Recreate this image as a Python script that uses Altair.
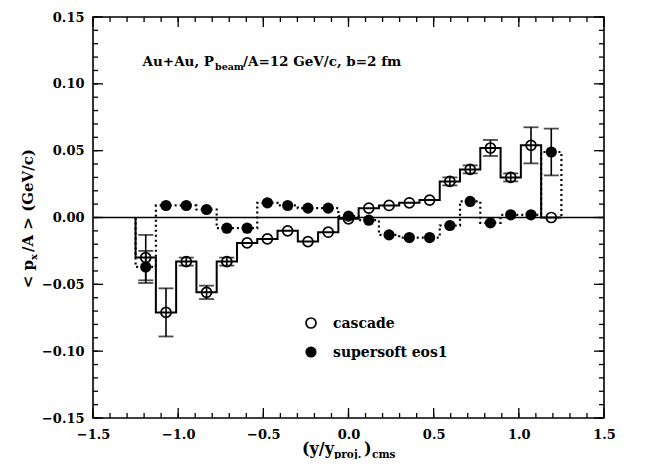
import altair as alt
import pandas as pd

# ---------------- data ----------------
# 21 equal bins over [-1.25, 1.25], the middle one centred at 0
centers = [-1.1905, -1.0714, -0.9524, -0.8333, -0.7143, -0.5952, -0.4762, -0.3571, -0.2381, -0.1190,
           0.0, 0.1190, 0.2381, 0.3571, 0.4762, 0.5952, 0.7143, 0.8333, 0.9524, 1.0714, 1.1905]
half_bin = 0.0595
cascade = [-0.030, -0.071, -0.033, -0.056, -0.033, -0.019, -0.016, -0.010, -0.018, -0.011,
           -0.001, 0.007, 0.009, 0.011, 0.013, 0.027, 0.036, 0.052, 0.030, 0.054, 0.000]
cascade_err = [0.017, 0.018, 0.003, 0.005, 0.003, 0.0, 0.0, 0.0, 0.0, 0.0,
               0.0, 0.0, 0.0, 0.0, 0.0, 0.003, 0.003, 0.006, 0.003, 0.0135, 0.0]
eos = [-0.037, 0.009, 0.009, 0.006, -0.008, -0.008, 0.011, 0.009, 0.007, 0.007,
       0.001, -0.002, -0.013, -0.015, -0.015, -0.006, 0.012, -0.004, 0.002, 0.002, 0.049]
eos_err = [0.012, 0.0, 0.0, 0.0, 0.0, 0.0, 0.0, 0.0, 0.0, 0.0,
           0.0, 0.0, 0.0, 0.0, 0.0, 0.0, 0.0, 0.0, 0.0, 0.0, 0.0175]

x_major = [-1.5, -1.0, -0.5, 0.0, 0.5, 1.0, 1.5]
y_major = [-0.15, -0.10, -0.05, 0.0, 0.05, 0.10, 0.15]
x_minor = [round(-1.5 + 0.1 * i, 2) for i in range(31)]
y_minor = [round(-0.15 + 0.01 * i, 3) for i in range(31)]

W, H = 511, 401
FONT = "DejaVu Serif"

# ---------------- tables ----------------
def step_table(vals):
    rows = [{"i": 0, "x": centers[0] - half_bin, "v": 0.0}]
    for k, (c, v) in enumerate(zip(centers, vals)):
        rows.append({"i": k + 1, "x": c - half_bin, "v": v})
    rows.append({"i": len(vals) + 1, "x": centers[-1] + half_bin, "v": vals[-1]})
    rows.append({"i": len(vals) + 2, "x": centers[-1] + half_bin, "v": 0.0})
    return pd.DataFrame(rows)

pts = pd.DataFrame({"x": centers, "cas": cascade, "cas_err": cascade_err,
                    "eos": eos, "eos_err": eos_err})
pts["cas_lo"] = pts["cas"] - pts["cas_err"]
pts["cas_hi"] = pts["cas"] + pts["cas_err"]
pts["eos_lo"] = pts["eos"] - pts["eos_err"]
pts["eos_hi"] = pts["eos"] + pts["eos_err"]

xs = alt.Scale(domain=[-1.5, 1.5], nice=False, zero=False)
ys = alt.Scale(domain=[-0.15, 0.15], nice=False, zero=False)

base_axes = alt.Chart(pd.DataFrame({"x": [0.0], "y": [0.0]})).mark_point(opacity=0).encode(
    x=alt.X("x:Q", scale=xs, title=None,
            axis=alt.Axis(values=x_major, format=".1f", ticks=False, domain=False, grid=False,
                          labelFont=FONT, labelFontWeight="bold", labelFontSize=13,
                          labelColor="black", labelPadding=10, labelFlush=False,
                          labelOverlap=False)),
    y=alt.Y("y:Q", scale=ys, title=None,
            axis=alt.Axis(values=y_major, format=".2f", ticks=False, domain=False, grid=False,
                          labelFont=FONT, labelFontWeight="bold", labelFontSize=13,
                          labelColor="black", labelPadding=9, labelFlush=False,
                          labelOverlap=False)),
)

zero_line = alt.Chart(pd.DataFrame({"y": [0.0]})).mark_rule(color="black", strokeWidth=1.5).encode(
    y=alt.Y("y:Q", scale=ys))

# inward ticks on four sides
def xticks(vals, length):
    d = pd.DataFrame({"t": vals})
    b = alt.Chart(d).mark_rule(color="black", strokeWidth=1.3).encode(
        x=alt.X("t:Q", scale=xs), y=alt.value(H), y2=alt.value(H - length))
    t = alt.Chart(d).mark_rule(color="black", strokeWidth=1.3).encode(
        x=alt.X("t:Q", scale=xs), y=alt.value(0), y2=alt.value(length))
    return b + t

def yticks(vals, length):
    d = pd.DataFrame({"t": vals})
    l = alt.Chart(d).mark_rule(color="black", strokeWidth=1.3).encode(
        y=alt.Y("t:Q", scale=ys), x=alt.value(0), x2=alt.value(length))
    r = alt.Chart(d).mark_rule(color="black", strokeWidth=1.3).encode(
        y=alt.Y("t:Q", scale=ys), x=alt.value(W), x2=alt.value(W - length))
    return l + r

ticks = xticks(x_major, 10) + xticks(x_minor, 5) + yticks(y_major, 10) + yticks(y_minor, 5)

cas_step = alt.Chart(step_table(cascade)).mark_line(
    color="black", strokeWidth=2, interpolate="step-after").encode(
    x=alt.X("x:Q", scale=xs), y=alt.Y("v:Q", scale=ys), order="i:Q")
eos_step = alt.Chart(step_table(eos)).mark_line(
    color="black", strokeWidth=2.2, strokeDash=[2, 3], interpolate="step-after").encode(
    x=alt.X("x:Q", scale=xs), y=alt.Y("v:Q", scale=ys), order="i:Q")

pbase = alt.Chart(pts)

def errbars(lo, hi, errf):
    sel = pbase.transform_filter(f"datum.{errf} > 0")
    rule = sel.mark_rule(color="black", strokeWidth=1.6).encode(
        x=alt.X("x:Q", scale=xs), y=alt.Y(f"{lo}:Q", scale=ys), y2=f"{hi}:Q")
    cap_lo = sel.mark_tick(color="black", orient="horizontal", size=15, thickness=1.8).encode(
        x=alt.X("x:Q", scale=xs), y=alt.Y(f"{lo}:Q", scale=ys))
    cap_hi = sel.mark_tick(color="black", orient="horizontal", size=15, thickness=1.8).encode(
        x=alt.X("x:Q", scale=xs), y=alt.Y(f"{hi}:Q", scale=ys))
    return rule + cap_lo + cap_hi

eos_pts = pbase.mark_point(shape="circle", filled=True, size=125, color="black", opacity=1).encode(
    x=alt.X("x:Q", scale=xs), y=alt.Y("eos:Q", scale=ys))
cas_pts = pbase.mark_point(shape="circle", filled=False, size=100, color="black",
                           strokeWidth=1.7, opacity=1).encode(
    x=alt.X("x:Q", scale=xs), y=alt.Y("cas:Q", scale=ys))

# ---------------- text ----------------
one = pd.DataFrame({"a": [0]})

def txt(s, x, y, size=14, align="left", angle=0):
    return alt.Chart(one).mark_text(
        text=s, font=FONT, fontWeight="bold", fontSize=size, color="black",
        align=align, baseline="alphabetic", angle=angle).encode(
        x=alt.value(x), y=alt.value(y))

title = (txt("Au+Au, P", 121, 49, 13.5, "right")
         + txt("beam", 122, 53, 9.5)
         + txt("/A=12 GeV/c, b=2 fm", 150, 49, 13.5))

legend = (alt.Chart(one).mark_point(shape="circle", filled=False, size=100, color="black",
                                    strokeWidth=1.7, opacity=1).encode(
              x=alt.value(218), y=alt.value(306))
          + alt.Chart(one).mark_point(shape="circle", filled=True, size=125, color="black",
                                      opacity=1).encode(x=alt.value(218), y=alt.value(335))
          + txt("cascade", 240, 311, 14)
          + txt("supersoft eos1", 240, 340, 14))

xtitle = (txt("(y/y", 241, 437, 16, "right")
          + txt("proj.", 241, 441, 10.5)
          + txt(")", 271, 437, 16)
          + txt("cms", 279, 441, 10.5))

ytitle = (txt("< p", -60, 243, 15, "right", 270)
          + txt("x", -56, 243, 10, "left", 270)
          + txt("/A > (GeV/c)", -60, 235, 15, "left", 270))

chart = alt.layer(
    base_axes, zero_line, ticks, cas_step, eos_step,
    errbars("cas_lo", "cas_hi", "cas_err"),
    errbars("eos_lo", "eos_hi", "eos_err"),
    eos_pts, cas_pts, title, legend, xtitle, ytitle,
).properties(
    width=W, height=H, autosize="none",
    padding={"left": 85, "top": 9, "right": 40, "bottom": 41},
    background="white",
).configure_view(stroke="black", strokeWidth=1.6)

chart.save("out.html", embed_options={"renderer": "svg", "actions": False})
